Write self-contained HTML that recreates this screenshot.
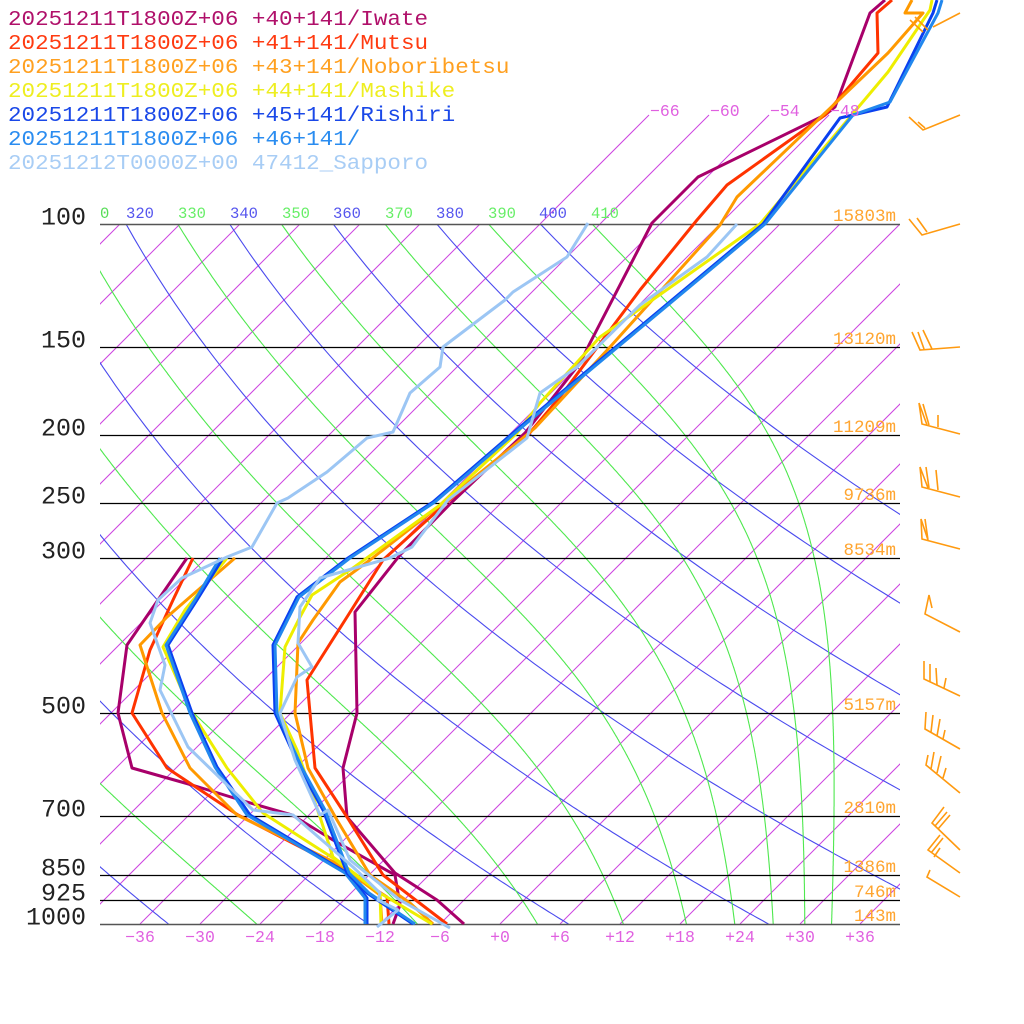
<!DOCTYPE html>
<html><head><meta charset="utf-8">
<style>
html,body{margin:0;padding:0;background:#fff;}
svg{display:block;}
text{font-family:"Liberation Mono",monospace;}
</style></head>
<body>
<svg id="s" width="1024" height="1024" viewBox="0 0 1024 1024" xmlns="http://www.w3.org/2000/svg">
<defs><clipPath id="pc"><rect x="100" y="224" width="800" height="700"/></clipPath></defs>
<g id="grid" clip-path="url(#pc)"></g>
<g id="top"></g>
<g id="series" fill="none" stroke-width="3" stroke-linejoin="round"></g>
<g id="barbs" fill="none" stroke="#ff9a10" stroke-width="1.6"></g>
<g id="labels"></g>
</svg>
<script>
var NS="http://www.w3.org/2000/svg";
function el(p,tag,a,txt){var e=document.createElementNS(NS,tag);for(var k in a)e.setAttribute(k,a[k]);if(txt!=null)e.textContent=txt;p.appendChild(e);return e;}
var G=document.getElementById('grid'),T=document.getElementById('top'),S=document.getElementById('series'),B=document.getElementById('barbs'),L=document.getElementById('labels');
function Y(p){return 924-304*Math.log(1000/p);}
function X(t,y){return 500+10*t+(924-y);}
// isotherms
for(var t=-150;t<=60;t+=6){
  var y1=924,y2=224;
  el(G,'line',{x1:X(t,y1),y1:y1,x2:X(t,y2),y2:y2,stroke:'#cc44e0','stroke-width':1});
}
[-66,-60,-54,-48].forEach(function(t){
  el(T,'line',{x1:X(t,224),y1:224,x2:X(t,115),y2:115,stroke:'#cc44e0','stroke-width':1});
  el(L,'text',{x:X(t,115)+1,y:116,fill:'#e060e0','font-size':16.5},(t<0?'\u2212':'+')+Math.abs(t));
});
// dry adiabats (blue)
for(var th=200;th<=400;th+=20){
  var d='';
  for(var p=100;p<=1000;p+=5){var tc=th*Math.pow(p/1000,0.2857)-273.15;var y=Y(p);d+=(p==100?'M':'L')+X(tc,y).toFixed(1)+' '+y.toFixed(1);}
  el(G,'path',{d:d,fill:'none',stroke:'#4a4aee','stroke-width':1.1});
}
// pseudo adiabats (green)
function es(T){var tc=T-273.15;return 6.112*Math.exp(17.67*tc/(tc+243.5));}
for(var th=210;th<=410;th+=20){
  var Tk=th*Math.pow(0.1,0.2857),d='';
  for(var p=100;p<=1000;p+=1){
    var y=Y(p);d+=(p==100?'M':'L')+X(Tk-273.15,y).toFixed(1)+' '+y.toFixed(1);
    var e=es(Tk),rs=0.622*e/(p-e),Lv=2.5e6,Rd=287,cp=1005;
    var dT=(Rd*Tk+Lv*rs)/(p*(cp+Lv*Lv*rs*0.622/(Rd*Tk*Tk)));
    Tk+=dT*1;
  }
  el(G,'path',{d:d,fill:'none',stroke:'#4ee84e','stroke-width':1.1});
}
// pressure lines
[[100,'100'],[150,'150'],[200,'200'],[250,'250'],[300,'300'],[500,'500'],[700,'700'],[850,'850'],[925,'925'],[1000,'1000']].forEach(function(a){
  var y=Math.round(Y(a[0]))+0.5;
  el(T,'line',{x1:100,y1:y,x2:900,y2:y,stroke:(a[0]==100||a[0]==1000)?'#555':'#000','stroke-width':(a[0]==100||a[0]==1000)?1.6:1.2});
  el(L,'text',{x:86,y:y,fill:'#222','font-size':25,'text-anchor':'end'},a[1]);
});
// theta labels
[['0',100,'#55dd55','start'],['320',140,'#5555ee'],['330',192,'#66ee66'],['340',244,'#5555ee'],['350',296,'#66ee66'],['360',347,'#5555ee'],['370',399,'#66ee66'],['380',450,'#5555ee'],['390',502,'#66ee66'],['400',553,'#5555ee'],['410',605,'#66ee66']].forEach(function(a){
  el(L,'text',{x:a[1],y:218,fill:a[2],'font-size':15.5,'text-anchor':a[3]||'middle'},a[0]);
});
// bottom labels
var bl=['\u221236','\u221230','\u221224','\u221218','\u221212','\u22126','+0','+6','+12','+18','+24','+30','+36'];
bl.forEach(function(s,i){el(L,'text',{x:140+60*i,y:942,fill:'#e060e0','font-size':16.5,'text-anchor':'middle'},s);});
// height labels
[[221,'15803m'],[344,'13120m'],[432,'11209m'],[500,'9736m'],[555,'8534m'],[710,'5157m'],[813,'2810m'],[872,'1386m'],[897,'746m'],[921,'143m']].forEach(function(a){
  el(L,'text',{x:896,y:a[0],fill:'#ffa530','font-size':17.5,'text-anchor':'end'},a[1]);
});
// legend
var leg=[['20251211T1800Z+06 +40+141/Iwate','#b0106a'],['20251211T1800Z+06 +41+141/Mutsu','#ff3a10'],['20251211T1800Z+06 +43+141/Noboribetsu','#ffa020'],['20251211T1800Z+06 +44+141/Mashike','#eeee20'],['20251211T1800Z+06 +45+141/Rishiri','#1a48e8'],['20251211T1800Z+06 +46+141/','#2a8cf0'],['20251212T0000Z+00 47412_Sapporo','#a8cdf5']];
leg.forEach(function(a,i){el(L,'text',{x:8,y:25+24*i,fill:a[1],'font-size':21,textLength:(a[0].length*13.55).toFixed(1),lengthAdjust:'spacingAndGlyphs'},a[0]);});
// series
function pl(pts,c,w){el(S,'polyline',{points:pts,stroke:c,'stroke-width':w||3});}
var C=['#a8006a','#ff3300','#ff9900','#eeee00','#0a40f0','#2288ee','#9cc6f4'];
pl('187,558 158,600 127,645 118,713 132,768 192,785 247,802 292,815 333,840 395,875 400,905 393,924',C[0]);
pl('193,558 173,600 150,650 132,713 167,768 238,815 345,870 387,897 389,924',C[1]);
pl('235,558 167,617 140,645 162,713 190,768 237,815 340,865 380,895 382,924',C[2]);
pl('227,558 185,610 163,647 192,713 227,768 263,813 333,858 380,893 381,924',C[3]);
pl('223,558 197,600 168,645 192,713 217,767 250,815 347,873 367,898 367,924',C[4]);
pl('220,558 195,600 166,645 190,713 215,767 247,815 345,873 365,898 365,924',C[5]);
pl('464,924 437,900 395,873 347,817 343,768 357,713 355,612 400,555 452,502 525,433 580,363 590,343 652,223 698,177 825,115 835,107 870,13 885,0',C[0]);
pl('447,924 413,898 383,875 347,817 315,768 307,680 347,617 383,560 447,502 528,435 560,397 640,290 697,220 727,185 825,115 878,53 877,13 892,0',C[1]);
pl('433,924 410,903 370,875 337,820 308,768 295,713 298,643 313,620 340,582 370,560 443,503 535,428 610,347 720,225 737,197 888,53 923,13 905,13 912,0',C[2]);
pl('432,924 380,893 333,857 320,817 297,750 280,713 285,647 300,617 312,595 353,568 440,505 517,433 540,403 600,337 760,224 888,72 930,10 932,0',C[3]);
pl('413,924 367,893 347,873 323,810 300,768 275,713 273,645 297,597 348,558 433,502 520,427 763,224 840,118 887,107 933,13 937,0',C[4]);
pl('415,924 369,893 349,873 325,810 302,768 277,713 275,645 299,597 350,558 435,502 522,427 765,224 853,115 890,102 938,13 942,0',C[5]);
pl('377,927 398,910 378,900 380,893 353,867 293,815 253,810 188,747 160,690 165,665 150,623 158,600 182,578 227,557 252,547 277,503 288,498 327,472 367,438 393,432 410,393 440,367 443,347 505,300 513,292 567,257 588,223',C[6]);
pl('450,928 400,900 350,860 328,810 320,815 295,760 280,713 297,677 312,667 298,643 300,607 320,578 390,558 412,547 448,500 527,438 540,393 577,367 640,305 707,257 737,224',C[6]);
// wind barbs
var bp=[
'M960 13 L933 27 M910 20 L923 32 M915 17 L928 30',
'M960 115 L923 130 L909 117 M918 122 L925 128',
'M960 224 L922 235 L909 219 M917 218 L927 232',
'M960 347 L920 350 L912 332 M918 332 L924 349 M923 330 L932 349',
'M960 434 L922 424 L919 403 L927 425 M923 404 L929 425 M938 427 L938 415',
'M960 497 L922 487 L920 467 L928 488 M926 467 L929 488 M936 470 L938 490',
'M960 549 L922 539 L921 519 L928 540 M925 519 L928 540',
'M960 632 L925 614 L929 595 L932 608',
'M960 696 L924 679 L924 661 M930 682 L930 664 M937 685 L936 668 M944 688 L946 678',
'M960 749 L925 729 L926 712 M931 732 L933 715 M937 736 L940 719 M943 739 L945 730',
'M960 793 L926 765 L928 755 M931 769 L934 752 M937 773 L941 756 M943 778 L946 768',
'M960 850 L932 823 L944 807 M935 826 L947 812 M938 829 L950 815',
'M960 873 L928 850 L940 835 M931 853 L943 838 M934 857 L940 848',
'M960 897 L927 877 L930 870'];
bp.forEach(function(d){el(B,'path',{d:d});});
</script>
</body></html>
